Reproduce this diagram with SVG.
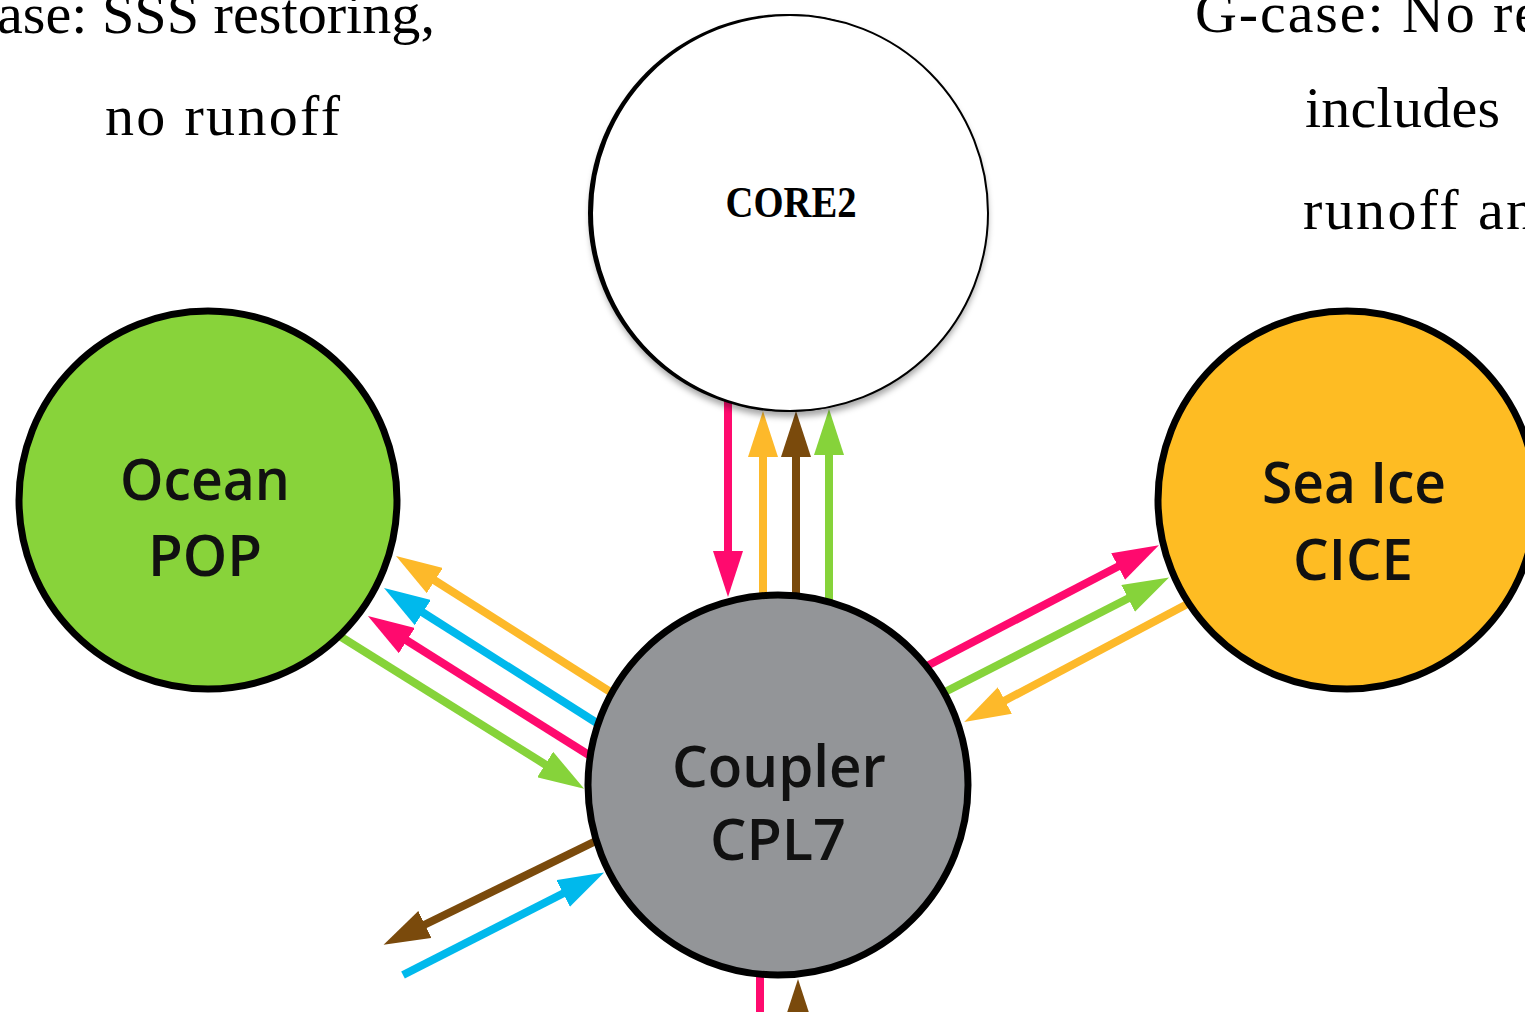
<svg xmlns="http://www.w3.org/2000/svg" width="1525" height="1012" viewBox="0 0 1525 1012">
<style>
.cap{font-family:"Liberation Serif","Times New Roman",serif;font-size:58px;fill:#000}
.lbl{font-family:"Open Sans","Liberation Sans",sans-serif;font-weight:600;font-size:58px;fill:#111;text-anchor:middle}
.ln{stroke-width:8;fill:none;stroke-linecap:butt}
.node{stroke:#000;stroke-width:7}
</style>
<defs>
<filter id="sh" x="-10%" y="-10%" width="120%" height="125%">
<feDropShadow dx="2" dy="5" stdDeviation="3" flood-color="#000" flood-opacity="0.35"/>
</filter>
<marker id="mPink" viewBox="0 0 46 30" markerWidth="46" markerHeight="30" markerUnits="userSpaceOnUse" refX="1" refY="15" orient="auto"><path d="M0,0 L46,15 L0,30 z" fill="#FF0A6E"/></marker>
<marker id="mYel" viewBox="0 0 46 30" markerWidth="46" markerHeight="30" markerUnits="userSpaceOnUse" refX="1" refY="15" orient="auto"><path d="M0,0 L46,15 L0,30 z" fill="#FDB92A"/></marker>
<marker id="mBrn" viewBox="0 0 46 30" markerWidth="46" markerHeight="30" markerUnits="userSpaceOnUse" refX="1" refY="15" orient="auto"><path d="M0,0 L46,15 L0,30 z" fill="#7A4A0C"/></marker>
<marker id="mGrn" viewBox="0 0 46 30" markerWidth="46" markerHeight="30" markerUnits="userSpaceOnUse" refX="1" refY="15" orient="auto"><path d="M0,0 L46,15 L0,30 z" fill="#86D33A"/></marker>
<marker id="mBlu" viewBox="0 0 46 30" markerWidth="46" markerHeight="30" markerUnits="userSpaceOnUse" refX="1" refY="15" orient="auto"><path d="M0,0 L46,15 L0,30 z" fill="#00B9EC"/></marker>
</defs>
<rect width="1525" height="1012" fill="#fff"/>

<g id="captions">
<text class="cap" x="-3" y="33" textLength="438" lengthAdjust="spacingAndGlyphs">ase: SSS restoring,</text>
<text class="cap" x="105" y="135" textLength="235" lengthAdjust="spacing">no runoff</text>
<text class="cap" x="1195" y="32" textLength="345" lengthAdjust="spacing">G-case: No re</text>
<text class="cap" x="1305" y="127" textLength="195" lengthAdjust="spacing">includes</text>
<text class="cap" x="1303" y="229" textLength="232" lengthAdjust="spacing">runoff an</text>
</g>

<g id="connectors">
<line class="ln" stroke="#FF0A6E" x1="728" y1="400" x2="728" y2="552" marker-end="url(#mPink)"/>
<line class="ln" stroke="#FDB92A" x1="763" y1="600" x2="763" y2="456" marker-end="url(#mYel)"/>
<line class="ln" stroke="#7A4A0C" x1="796" y1="600" x2="796" y2="456" marker-end="url(#mBrn)"/>
<line class="ln" stroke="#86D33A" x1="829" y1="600" x2="829" y2="454" marker-end="url(#mGrn)"/>

<line class="ln" stroke="#FDB92A" x1="612" y1="693" x2="434" y2="580" marker-end="url(#mYel)"/>
<line class="ln" stroke="#00B9EC" x1="600" y1="725" x2="422" y2="612" marker-end="url(#mBlu)"/>
<line class="ln" stroke="#FF0A6E" x1="592" y1="757" x2="406" y2="640" marker-end="url(#mPink)"/>
<line class="ln" stroke="#86D33A" x1="338" y1="635" x2="546" y2="765" marker-end="url(#mGrn)"/>

<line class="ln" stroke="#FF0A6E" x1="925" y1="667" x2="1119" y2="566" marker-end="url(#mPink)"/>
<line class="ln" stroke="#86D33A" x1="941" y1="694" x2="1129" y2="598" marker-end="url(#mGrn)"/>
<line class="ln" stroke="#FDB92A" x1="1193" y1="601" x2="1004" y2="701" marker-end="url(#mYel)"/>

<line class="ln" stroke="#7A4A0C" x1="602" y1="838" x2="424" y2="925" marker-end="url(#mBrn)"/>
<line class="ln" stroke="#00B9EC" x1="403" y1="975" x2="564" y2="893" marker-end="url(#mBlu)"/>

<line class="ln" stroke="#FF0A6E" x1="760" y1="960" x2="760" y2="1020"/>
<line class="ln" stroke="#7A4A0C" x1="798" y1="1070" x2="798" y2="1024" marker-end="url(#mBrn)"/>
</g>

<g id="core2">
<circle cx="787" cy="213" r="199" fill="#000" filter="url(#sh)"/>
<circle cx="790" cy="213" r="198" fill="#fff" stroke="#000" stroke-width="2"/>
<text x="791" y="217" font-family="Liberation Serif, Times New Roman, serif" font-weight="bold" font-size="44" text-anchor="middle" textLength="131" lengthAdjust="spacingAndGlyphs">CORE2</text>
</g>

<g id="ocean">
<circle class="node" cx="208" cy="500" r="189" fill="#88D33A"/>
<text class="lbl" x="205" y="500" textLength="170" lengthAdjust="spacingAndGlyphs">Ocean</text>
<text class="lbl" x="205" y="576" textLength="114" lengthAdjust="spacingAndGlyphs">POP</text>
</g>

<g id="seaice">
<circle class="node" cx="1347" cy="500" r="189" fill="#FEBC23"/>
<text class="lbl" x="1354" y="503" textLength="184" lengthAdjust="spacingAndGlyphs">Sea Ice</text>
<text class="lbl" x="1353" y="580" textLength="120" lengthAdjust="spacingAndGlyphs">CICE</text>
</g>

<g id="coupler">
<circle class="node" cx="778" cy="785" r="190" fill="#939598"/>
<text class="lbl" x="779" y="787" textLength="214" lengthAdjust="spacingAndGlyphs">Coupler</text>
<text class="lbl" x="778" y="860" textLength="136" lengthAdjust="spacingAndGlyphs">CPL7</text>
</g>
</svg>
